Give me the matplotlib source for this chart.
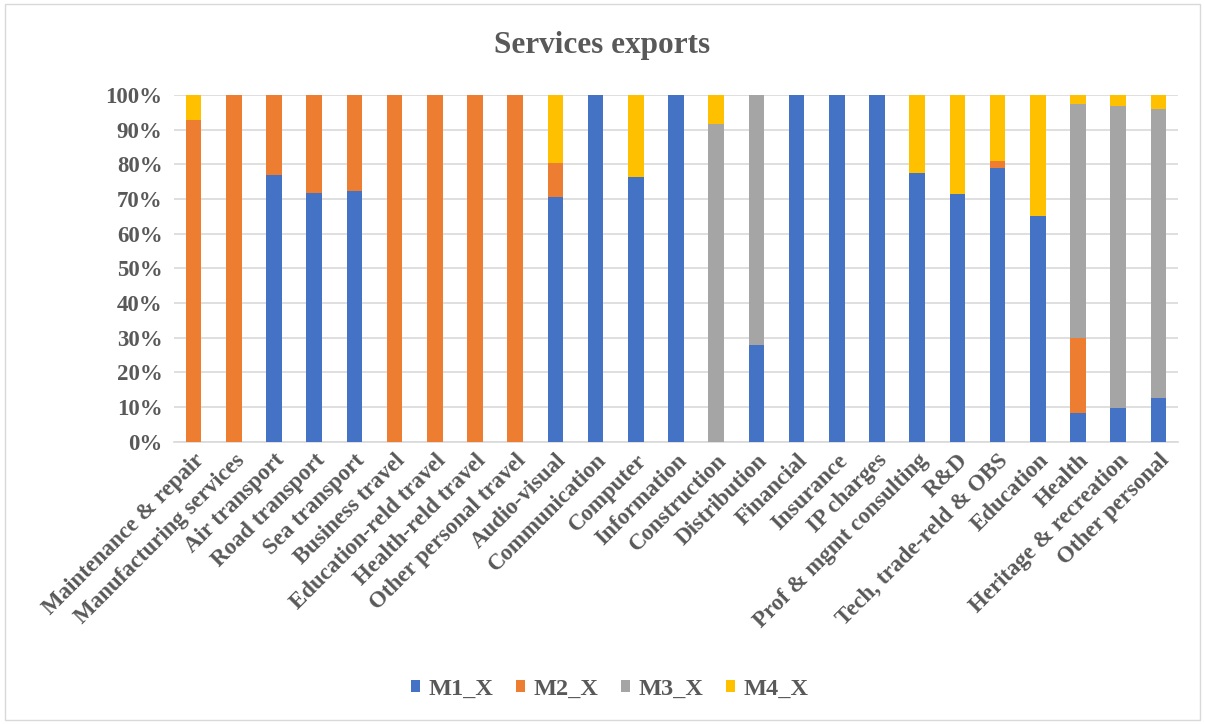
import numpy as np
import matplotlib.pyplot as plt
from matplotlib.patches import Rectangle
from matplotlib.ticker import PercentFormatter

categories = ['Maintenance & repair', 'Manufacturing services', 'Air transport',
              'Road transport', 'Sea transport', 'Business travel',
              'Education-reld travel', 'Health-reld travel', 'Other personal travel',
              'Audio-visual', 'Communication', 'Computer', 'Information',
              'Construction', 'Distribution', 'Financial', 'Insurance', 'IP charges',
              'Prof & mgmt consulting', 'R&D', 'Tech, trade-reld & OBS', 'Education',
              'Health', 'Heritage & recreation', 'Other personal']

# shares (%)
m1 = [0, 0, 76.8, 71.7, 72.2, 0, 0, 0, 0, 70.6, 100, 76.3, 100, 0, 27.8,
      100, 100, 100, 77.5, 71.3, 78.9, 65.0, 8.3, 9.8, 12.7]
m2 = [92.8, 100, 23.2, 28.3, 27.8, 100, 100, 100, 100, 9.8, 0, 0, 0, 0, 0,
      0, 0, 0, 0, 0, 2.1, 0, 21.7, 0, 0]
m3 = [0, 0, 0, 0, 0, 0, 0, 0, 0, 0, 0, 0, 0, 91.6, 72.2,
      0, 0, 0, 0, 0, 0, 0, 67.3, 87.0, 83.1]
m4 = [7.2, 0, 0, 0, 0, 0, 0, 0, 0, 19.6, 0, 23.7, 0, 8.4, 0,
      0, 0, 0, 22.5, 28.7, 19.0, 35.0, 2.7, 3.2, 4.2]

series = {'M1_X': m1, 'M2_X': m2, 'M3_X': m3, 'M4_X': m4}
colors = ['#4472c4', '#ed7d31', '#a5a5a5', '#ffc000']

plt.rcParams['font.family'] = ['Liberation Serif', 'DejaVu Serif']
plt.rcParams['font.weight'] = 'bold'
txt = '#595959'

fig = plt.figure(figsize=(12.05, 7.24), dpi=100)
ax = fig.add_axes([0.144, 0.39, 0.834, 0.479])

x = np.arange(len(categories))
bottom = np.zeros(len(categories))
for (name, vals), c in zip(series.items(), colors):
    vals = np.array(vals) / 100
    ax.bar(x, vals, 0.39, bottom=bottom, color=c, label=name, zorder=3)
    bottom += vals

ax.set_xlim(-0.5, len(categories) - 0.5)
ax.set_ylim(0, 1)
ax.set_yticks(np.arange(0, 1.01, 0.1))
ax.yaxis.set_major_formatter(PercentFormatter(1, decimals=0))
ax.grid(axis='y', color='#d9d9d9', linewidth=1.2, zorder=0)
for s in ['top', 'right', 'left']:
    ax.spines[s].set_visible(False)
ax.spines['bottom'].set_color('#d9d9d9')
ax.spines['bottom'].set_linewidth(1.2)
ax.tick_params(axis='y', length=0, labelsize=16.5, colors=txt, pad=8)
ax.tick_params(axis='x', length=0, labelsize=16.5, colors=txt, pad=6)
ax.set_xticks(x)
ax.set_xticklabels(categories, rotation=45, ha='right', rotation_mode='anchor')

fig.text(0.5, 0.937, 'Services exports', ha='center', va='center',
         fontsize=22.5, fontweight='bold', color=txt)

fig.legend(loc='center', bbox_to_anchor=(0.506, 0.048), ncol=4, frameon=False,
           fontsize=17.5, handlelength=0.4, handleheight=0.4, handletextpad=0.35,
           columnspacing=0.9, labelcolor=txt)

fig.patches.append(Rectangle((0.004, 0.006), 0.992, 0.988, transform=fig.transFigure,
                             fill=False, edgecolor='#d9d9d9', linewidth=1))

fig.savefig('out.png', dpi=100)
